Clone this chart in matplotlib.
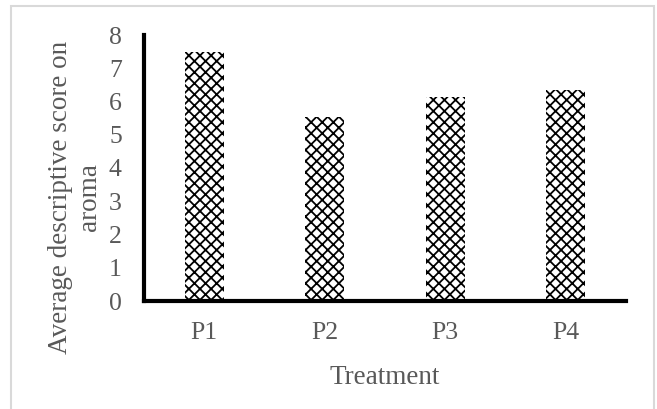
import matplotlib as mpl
mpl.use('Agg')
import matplotlib.pyplot as plt
from matplotlib.patches import Rectangle

# data
treatments = ['P1', 'P2', 'P3', 'P4']
aroma_scores = [7.5, 5.53, 6.15, 6.35]
y_ticks = [0, 1, 2, 3, 4, 5, 6, 7, 8]

mpl.rc('font', family='Liberation Serif', size=19)
mpl.rcParams['hatch.linewidth'] = 1.3

W, H = 657, 409
f = plt.figure(figsize=(W / 100., H / 100.), dpi=100)

# light gray frame around the chart area
f.patches.append(Rectangle((11. / W, -0.02), 643. / W, 1.0 - 6. / H + 0.02,
                           transform=f.transFigure, fill=False,
                           edgecolor='#d9d9d9', linewidth=1.5))

ax = f.add_axes([144. / W, 1 - 301. / H, (626. - 144.) / W, (301. - 35.) / H])

x = range(len(treatments))
ax.bar(x, aroma_scores, width=0.32, color='white', edgecolor='black',
       hatch='xxx', linewidth=0)

ax.set_xlim(-0.5, len(treatments) - 0.5)
ax.set_ylim(0, 8)
ax.set_yticks(y_ticks)
ax.set_xticks(list(x))
ax.set_xticklabels(treatments)

for side in ['top', 'right']:
    ax.spines[side].set_visible(False)
for side in ['left', 'bottom']:
    ax.spines[side].set_linewidth(3)
    ax.spines[side].set_color('black')

ax.tick_params(axis='both', length=0, colors='#595959', labelsize=18.5)
ax.tick_params(axis='y', pad=16)
ax.tick_params(axis='x', pad=15)

ax.set_xlabel('Treatment', fontsize=19.5, color='#595959', labelpad=15)
f.text(75. / W, 1 - 197. / H, 'Average descriptive score on\naroma',
       rotation=90, ha='center', va='center', fontsize=19.5, color='#595959',
       multialignment='center')

plt.savefig('out.png', dpi=100)
plt.close(f)
